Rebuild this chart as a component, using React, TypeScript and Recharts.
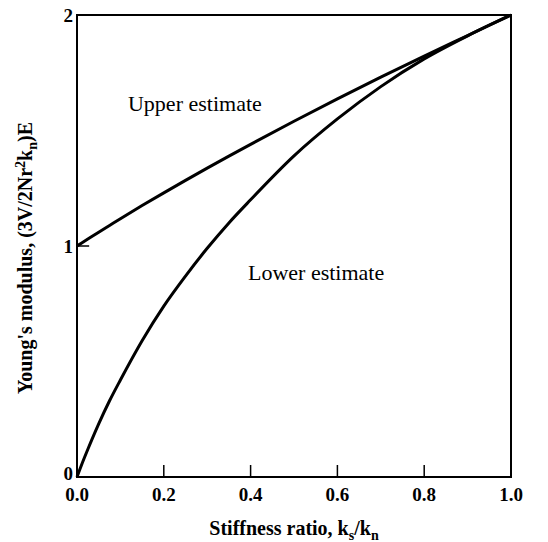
import {
  LineChart,
  Line,
  XAxis,
  YAxis,
  ReferenceArea,
  ReferenceLine,
  ReferenceDot,
} from "recharts";

// stiffness ratio ks/kn (x) and the two bounds
const stiffnessRatio = [0, 0.01, 0.025, 0.05, 0.075, 0.1, 0.15, 0.2, 0.25, 0.3, 0.35, 0.4, 0.5, 0.6, 0.7, 0.8, 0.9, 1.0];
const upperEstimate = [1.0, 1.012, 1.03, 1.06, 1.089, 1.118, 1.175, 1.23, 1.284, 1.337, 1.389, 1.44, 1.54, 1.637, 1.731, 1.822, 1.911, 2.0];
const lowerEstimate = [0, 0.05, 0.12, 0.23, 0.33, 0.42, 0.59, 0.74, 0.87, 0.99, 1.1, 1.2, 1.39, 1.55, 1.69, 1.81, 1.91, 2.0];

const xTicks = [0, 0.2, 0.4, 0.6, 0.8, 1.0];
const yTicks = [0, 1, 2];
const innerXTicks = [0.2, 0.4, 0.6, 0.8];
const innerYTicks = [1];

const data = stiffnessRatio.map((r, i) => ({
  ratio: r,
  upper: upperEstimate[i],
  lower: lowerEstimate[i],
}));

const FONT = "Liberation Serif, Times New Roman, serif";
const tickFont = { fontFamily: FONT, fontSize: 19, fontWeight: 700 };

const tickStyle = {
  fill: "#000",
  style: tickFont,
};

// y tick labels; the "0" sits a little above the axis like in the original
function YTick(props: any) {
  const { x, y, payload } = props;
  const lift = payload.value === 0 ? -4 : 0;
  return (
    <text x={x} y={y + lift} dy="0.355em" textAnchor="end" fill="#000" style={tickFont}>
      {payload.value}
    </text>
  );
}

function XTitle() {
  return (
    <text
      x={294}
      y={535}
      textAnchor="middle"
      fill="#000"
      style={{ fontFamily: FONT, fontSize: 20, fontWeight: 700 }}
    >
      Stiffness ratio, k
      <tspan dy={5} style={{ fontSize: 14 }}>s</tspan>
      <tspan dy={-5}>/k</tspan>
      <tspan dy={5} style={{ fontSize: 14 }}>n</tspan>
    </text>
  );
}

function YTitle() {
  return (
    <text
      x={0}
      y={0}
      transform="translate(32, 258) rotate(-90)"
      textAnchor="middle"
      fill="#000"
      style={{ fontFamily: FONT, fontSize: 20, fontWeight: 700 }}
    >
      Young's modulus, (3V/2Nr
      <tspan dy={-7} style={{ fontSize: 14 }}>2</tspan>
      <tspan dy={7}>k</tspan>
      <tspan dy={5} style={{ fontSize: 14 }}>n</tspan>
      <tspan dy={-5}>)E</tspan>
    </text>
  );
}

function noteLabel(text: string) {
  return (props: any) => {
    const vb = props.viewBox || {};
    return (
      <text
        x={vb.x}
        y={vb.y}
        textAnchor="start"
        fill="#000"
        style={{ fontFamily: FONT, fontSize: 22, fontWeight: 400 }}
      >
        {text}
      </text>
    );
  };
}

export default function App() {
  return (
    <div style={{ width: 548, height: 542, background: "#fff" }}>
      <style>{"body{margin:0;background:#fff}"}</style>
      <LineChart
        width={548}
        height={542}
        data={data}
        margin={{ top: 15, right: 37, bottom: 30, left: 17 }}
      >
        <XAxis
          dataKey="ratio"
          type="number"
          domain={[0, 1]}
          ticks={xTicks}
          tickFormatter={(v: number) => v.toFixed(1)}
          tick={tickStyle}
          tickLine={false}
          axisLine={false}
          tickSize={0}
          tickMargin={11}
          height={35}
          label={{ content: () => <XTitle /> }}
        />
        <YAxis
          type="number"
          domain={[0, 2]}
          ticks={yTicks}
          tick={<YTick />}
          tickLine={false}
          axisLine={false}
          tickSize={0}
          tickMargin={4}
          width={60}
          label={{ content: () => <YTitle /> }}
        />
        <ReferenceArea x1={0} x2={1} y1={0} y2={2} fill="none" stroke="#000" strokeWidth={2} />
        {innerXTicks.map((t) => (
          <ReferenceLine
            key={`xt${t}`}
            segment={[
              { x: t, y: 0 },
              { x: t, y: 0.052 },
            ]}
            stroke="#000"
            strokeWidth={1.5}
          />
        ))}
        {innerYTicks.map((t) => (
          <ReferenceLine
            key={`yt${t}`}
            segment={[
              { x: 0, y: t },
              { x: 0.028, y: t },
            ]}
            stroke="#000"
            strokeWidth={1.5}
          />
        ))}
        <Line
          type="monotone"
          dataKey="upper"
          stroke="#000"
          strokeWidth={3}
          dot={false}
          isAnimationActive={false}
        />
        <Line
          type="monotone"
          dataKey="lower"
          stroke="#000"
          strokeWidth={3}
          dot={false}
          isAnimationActive={false}
        />
        <ReferenceDot x={0.1175} y={1.584} r={0} fill="none" stroke="none" label={{ content: noteLabel("Upper estimate") }} />
        <ReferenceDot x={0.394} y={0.853} r={0} fill="none" stroke="none" label={{ content: noteLabel("Lower estimate") }} />
      </LineChart>
    </div>
  );
}
